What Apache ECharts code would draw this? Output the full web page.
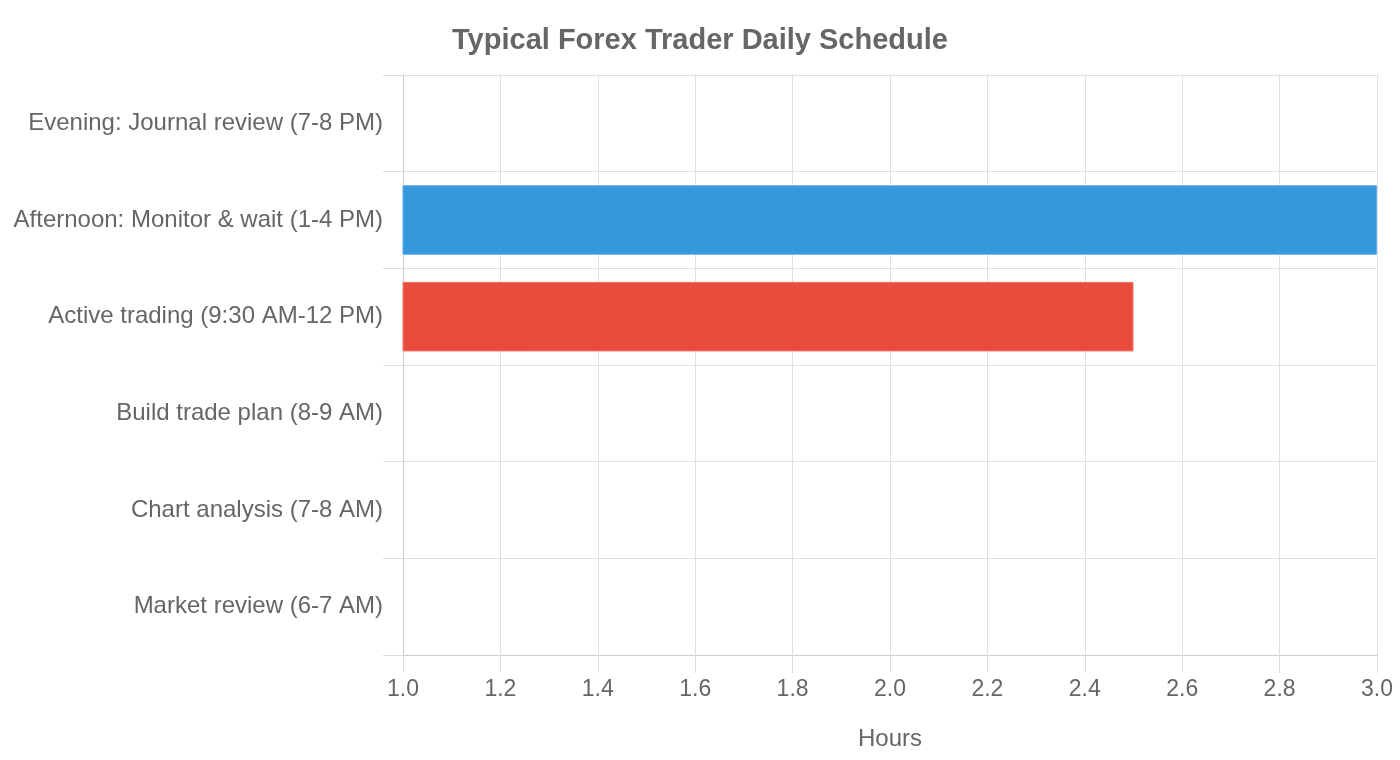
<!DOCTYPE html>
<html>
<head>
<meta charset="utf-8">
<script src="https://cdn.jsdelivr.net/npm/echarts@6/dist/echarts.min.js"></script>
<style>
	html, body { margin: 0; padding: 0; background: #fff; }
	#chart { width: 1400px; height: 760px; }
</style>
</head>
<body>
<div id="chart"></div>
<script>
	
	var categories = [
		"Market review (6-7 AM)",
		"Chart analysis (7-8 AM)",
		"Build trade plan (8-9 AM)",
		"Active trading (9:30 AM-12 PM)",
		"Afternoon: Monitor & wait (1-4 PM)",
		"Evening: Journal review (7-8 PM)"
	];
	
	var hours = [1, 1, 1, 2.5, 3, 1];
	
	var colors = ["#2ecc71", "#9b59b6", "#f39c12", "#e74c3c", "#3498db", "#1abc9c"];
	var borders = ["#5fd98f", "#b07cc6", "#f6b44a", "#ee7468", "#5dadf0", "#4fd4b9"];
	
	var font = "Liberation Sans, Arial, sans-serif";
	
	var chart = echarts.init(document.getElementById("chart"));
	
	chart.setOption({
		animation: false,
		title: {
			text: "Typical Forex Trader Daily Schedule",
			left: "center",
			top: 21,
			textStyle: {
				fontFamily: font,
				fontSize: 29,
				fontWeight: "bold",
				color: "#666"
			}
		},
		grid: {
			left: 403,
			right: 23,
			top: 75,
			bottom: 105
		},
		xAxis: {
			type: "value",
			min: 1,
			max: 3,
			interval: 0.2,
			name: "Hours",
			nameLocation: "middle",
			nameGap: 72,
			nameTextStyle: {
				fontFamily: font,
				fontSize: 24,
				color: "#666"
			},
			axisLine: {
				show: true,
				lineStyle: { color: "#ccc", width: 1 }
			},
			axisTick: {
				show: true,
				length: 18,
				lineStyle: { color: "#ddd" }
			},
			axisLabel: {
				margin: 23,
				fontFamily: font,
				fontSize: 23,
				color: "#666",
				formatter: function(v) {
					return v.toFixed(1);
				}
			},
			splitLine: {
				show: true,
				lineStyle: { color: "#e0e0e0" }
			}
		},
		yAxis: {
			type: "category",
			data: categories,
			axisLine: {
				show: true,
				lineStyle: { color: "#ccc", width: 1 }
			},
			axisTick: {
				show: true,
				length: 20,
				lineStyle: { color: "#ddd" }
			},
			axisLabel: {
				margin: 20,
				padding: [5, 0, 0, 0],
				fontFamily: font,
				fontSize: 24,
				color: "#666"
			},
			splitLine: {
				show: true,
				lineStyle: { color: "#e0e0e0" }
			}
		},
		series: [{
			type: "bar",
			barCategoryGap: "28%",
			data: hours.map(function(v, i) {
				return {
					value: v,
					itemStyle: {
						color: colors[i],
						borderColor: borders[i],
						borderWidth: 1
					}
				};
			})
		}]
	});
	
</script>
</body>
</html>
